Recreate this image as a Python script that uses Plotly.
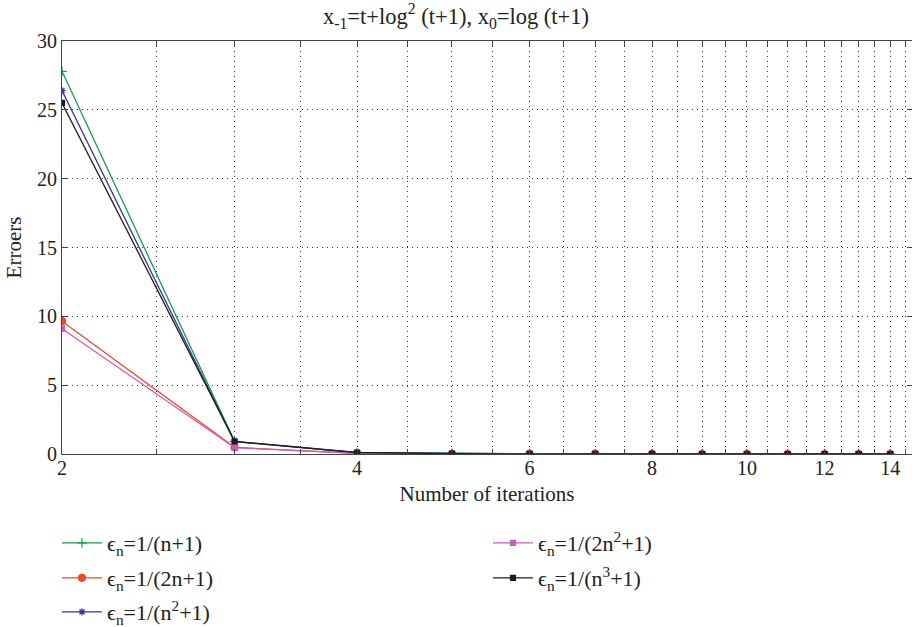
import numpy as np
import plotly.graph_objects as go

iterations = [2, 3, 4, 5, 6, 7, 8, 9, 10, 11, 12, 13, 14]
err_n1 = [27.8, 0.92, 0.10, 0.02, 0.008, 0.004, 0.002, 0.001, 0.001, 0.0005, 0.0005, 0.0003, 0.0002]
err_2n1 = [9.65, 0.48, 0.05, 0.01, 0.004, 0.002, 0.001, 0.0005, 0.0005, 0.0003, 0.0002, 0.0001, 0.0001]
err_n21 = [26.4, 0.90, 0.10, 0.02, 0.008, 0.004, 0.002, 0.001, 0.001, 0.0005, 0.0005, 0.0003, 0.0002]
err_2n21 = [9.1, 0.46, 0.05, 0.01, 0.004, 0.002, 0.001, 0.0005, 0.0005, 0.0003, 0.0002, 0.0001, 0.0001]
err_n31 = [25.5, 0.92, 0.11, 0.02, 0.008, 0.004, 0.002, 0.001, 0.001, 0.0005, 0.0005, 0.0003, 0.0002]

grid_vals = [2 + 0.5 * i for i in range(26)]
tick_labels = [str(int(v)) if (v == int(v) and int(v) % 2 == 0) else "" for v in grid_vals]
y_ticks = [0, 5, 10, 15, 20, 25, 30]

FONT = "Liberation Serif"

# name, values, colour, symbol, size, legend id, legend column x (px), legend row y (px)
series = [
    ("ϵ<sub>n</sub>=1/(n+1)", err_n1, "#12a04e", "cross-thin", 7, "legend", 57, 543),
    ("ϵ<sub>n</sub>=1/(2n+1)", err_2n1, "#f2462a", "circle", 7, "legend2", 57, 578),
    ("ϵ<sub>n</sub>=1/(n<sup>2</sup>+1)", err_n21, "#3a329e", "asterisk-open", 6, "legend3", 57, 612),
    ("ϵ<sub>n</sub>=1/(2n<sup>2</sup>+1)", err_2n21, "#c95cc0", "square", 5, "legend4", 488, 543),
    ("ϵ<sub>n</sub>=1/(n<sup>3</sup>+1)", err_n31, "#1e1e1e", "square", 5, "legend5", 488, 578),
]

fig = go.Figure()
legends = {}
for name, ys, col, sym, sz, lg, lx, ly in series:
    fig.add_trace(go.Scatter(
        x=iterations, y=ys, name=name, mode="lines+markers",
        line=dict(color=col, width=1.3),
        marker=dict(color=col, symbol=sym, size=sz, line=dict(color=col, width=1.2)),
        legend=lg, showlegend=True,
    ))
    legends[lg] = dict(x=lx / 912, y=1 - ly / 627, orientation="h",
                       font=dict(family=FONT, size=22, color="#222"),
                       xref="container", yref="container", xanchor="left", yanchor="middle",
                       bgcolor="rgba(0,0,0,0)", itemwidth=40, visible=True)

axis_col = "#444"
grid_col = "#333"
grid_dash = "1px,4px"
fig.update_layout(
    width=912, height=627,
    showlegend=True,
    margin=dict(l=62, r=0, t=41, b=173),
    paper_bgcolor="white", plot_bgcolor="white",
    font=dict(family=FONT, size=20, color="#222"),
    title=dict(text="x<sub>-1</sub>=t+log<sup>2</sup> (t+1), x<sub>0</sub>=log (t+1)",
               x=0.5, xref="container", y=1 - 16 / 627, yref="container",
               xanchor="center", yanchor="middle",
               font=dict(family=FONT, size=22.5, color="#222")),
    xaxis=dict(type="log", range=[np.log10(2), np.log10(2) + 850 / 980],
               automargin=False,
               tickmode="array", tickvals=grid_vals, ticktext=tick_labels,
               showgrid=True, gridcolor=grid_col, griddash=grid_dash, gridwidth=1,
               showline=True, linecolor=axis_col, linewidth=1, mirror="ticks",
               ticks="inside", ticklen=5, tickcolor=axis_col,
               ticklabelstandoff=-4,
               tickfont=dict(family=FONT, size=20, color="#222"),
               title=dict(text="Number of iterations", standoff=8,
                          font=dict(family=FONT, size=21, color="#222")),
               zeroline=False),
    yaxis=dict(range=[0, 30], tickmode="array", tickvals=y_ticks,
               automargin=False,
               showgrid=True, gridcolor=grid_col, griddash=grid_dash, gridwidth=1,
               showline=True, linecolor=axis_col, linewidth=1, mirror="ticks",
               ticks="inside", ticklen=5, tickcolor=axis_col,
               tickfont=dict(family=FONT, size=20, color="#222"),
               title=dict(text="Erroers", standoff=9,
                          font=dict(family=FONT, size=21, color="#222")),
               zeroline=False),
    **legends,
)

fig.write_html("out.html", config={"displayModeBar": False},
               post_script="document.body.style.margin='0';document.body.style.overflow='hidden';")
